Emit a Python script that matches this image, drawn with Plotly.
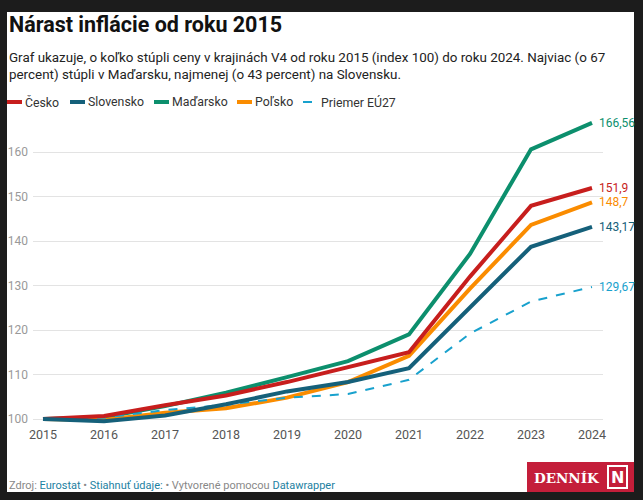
import plotly.graph_objects as go

years = [2015, 2016, 2017, 2018, 2019, 2020, 2021, 2022, 2023, 2024]
cesko = [100, 100.7, 103.1, 105.3, 108.3, 111.6, 115.0, 132.0, 147.9, 151.9]
slovensko = [100, 99.5, 100.8, 103.3, 106.2, 108.3, 111.4, 124.9, 138.7, 143.17]
madarsko = [100, 100.4, 102.9, 105.9, 109.4, 113.0, 119.0, 137.1, 160.6, 166.56]
polsko = [100, 99.8, 101.4, 102.4, 104.8, 108.3, 114.2, 129.3, 143.6, 148.7]
eu27 = [100, 100.3, 102.0, 103.2, 104.8, 105.6, 108.8, 119.2, 126.4, 129.67]

names = ["Česko", "Slovensko", "Maďarsko", "Poľsko", "Priemer EÚ27"]
colors = ["#c71e1d", "#15607a", "#0c8f6d", "#fa8c00", "#18a1cd"]
series = [cesko, slovensko, madarsko, polsko, eu27]
yticks = [100, 110, 120, 130, 140, 150, 160]

W_PX, H_PX = 643, 500
L, R, T, B = 33, 40, 118, 75
PW, PH = W_PX - L - R, H_PX - T - B

def px(x):
    return (x - L) / PW

def py(y):
    return 1 - (y - T) / PH

fig = go.Figure()

draw_order = [2, 3, 4, 0, 1]
for i in draw_order:
    fig.add_trace(go.Scatter(
        x=years, y=series[i], mode="lines", name=names[i],
        line=dict(color=colors[i], width=2 if i == 4 else 4,
                  dash="dash" if i == 4 else "solid"),
        showlegend=False, hoverinfo="skip"))

annotations = []
shapes = []

# white card on dark frame
shapes.append(dict(type="rect", xref="paper", yref="paper", layer="below",
                   x0=px(7), x1=px(634), y0=py(12), y1=py(492),
                   fillcolor="white", line=dict(width=0)))

# end labels
for i in range(5):
    v = series[i][-1]
    annotations.append(dict(x=years[-1], y=v, xref="x", yref="y",
                            text=f"{v}".replace(".", ","), showarrow=False,
                            xanchor="left", xshift=5,
                            font=dict(size=12, color=colors[i], family="Roboto")))

# title and subtitle
annotations.append(dict(x=px(7), y=py(25), xref="paper", yref="paper",
                        xanchor="left", yanchor="middle", showarrow=False,
                        text="<b>Nárast inflácie od roku 2015</b>",
                        font=dict(size=21.5, color="#111", family="Roboto")))
annotations.append(dict(x=px(7), y=py(66), xref="paper", yref="paper",
                        xanchor="left", yanchor="middle", showarrow=False, align="left",
                        text="Graf ukazuje, o koľko stúpli ceny v krajinách V4 od roku 2015 (index 100) do roku 2024. Najviac (o 67<br>percent) stúpli v Maďarsku, najmenej (o 43 percent) na Slovensku.",
                        font=dict(size=13.4, color="#222", family="Roboto")))

# manual legend
leg_x = [7, 70, 154, 237, 303]
for i in range(5):
    x0 = leg_x[i]
    shapes.append(dict(type="line", xref="paper", yref="paper",
                       x0=px(x0), x1=px(x0 + 15), y0=py(102), y1=py(102),
                       line=dict(color=colors[i], width=2 if i == 4 else 4,
                                 dash="dash" if i == 4 else "solid")))
    annotations.append(dict(x=px(x0 + 16), y=py(102), xref="paper", yref="paper",
                            xanchor="left", yanchor="middle", showarrow=False,
                            text=names[i],
                            font=dict(size=12.3, color="#333", family="Roboto")))

# footer
link = "#1d81a2"
annotations.append(dict(x=px(7), y=py(485), xref="paper", yref="paper",
                        xanchor="left", yanchor="middle", showarrow=False,
                        text=f"Zdroj: <span style='color:{link}'>Eurostat</span> • <span style='color:{link}'>Stiahnuť údaje:</span> • Vytvorené pomocou <span style='color:{link}'>Datawrapper</span>",
                        font=dict(size=11, color="#888", family="Roboto")))

# logo
shapes.append(dict(type="rect", xref="paper", yref="paper",
                   x0=px(527), x1=px(634), y0=py(462), y1=py(492),
                   fillcolor="#c41e3a", line=dict(width=0)))
annotations.append(dict(x=px(567), y=py(478), xref="paper", yref="paper",
                        xanchor="center", yanchor="middle", showarrow=False,
                        text="<b>DENNÍK</b>",
                        font=dict(size=13.5, color="white", family="DejaVu Serif")))
shapes.append(dict(type="rect", xref="paper", yref="paper",
                   x0=px(608), x1=px(627), y0=py(466), y1=py(488),
                   fillcolor="rgba(0,0,0,0)", line=dict(color="white", width=2)))
annotations.append(dict(x=px(617.5), y=py(477.5), xref="paper", yref="paper",
                        xanchor="center", yanchor="middle", showarrow=False,
                        text="<b>N</b>",
                        font=dict(size=16, color="white", family="DejaVu Sans")))

pad_l = 10 / 61
pad_r = 11 / 61
fig.update_layout(
    width=W_PX, height=H_PX,
    margin=dict(l=L, r=R, t=T, b=B, pad=0),
    paper_bgcolor="#1c1c1c", plot_bgcolor="white",
    font=dict(family="Roboto"),
    xaxis=dict(range=[years[0] - pad_l, years[-1] + pad_r], tickvals=years,
               ticktext=[str(y) for y in years], showgrid=False, zeroline=False,
               showline=False, ticks="", automargin=False,
               tickfont=dict(size=12.5, color="#555")),
    yaxis=dict(range=[100 - 6 / 4.45, 100 + 301 / 4.45], tickvals=yticks,
               showgrid=True, gridcolor="#e3e3e3", gridwidth=1, zeroline=False,
               showline=False, ticks="", ticklabelstandoff=4, automargin=False,
               tickfont=dict(size=12, color="#999")),
    shapes=shapes, annotations=annotations,
)

fig.write_html("out.html")
